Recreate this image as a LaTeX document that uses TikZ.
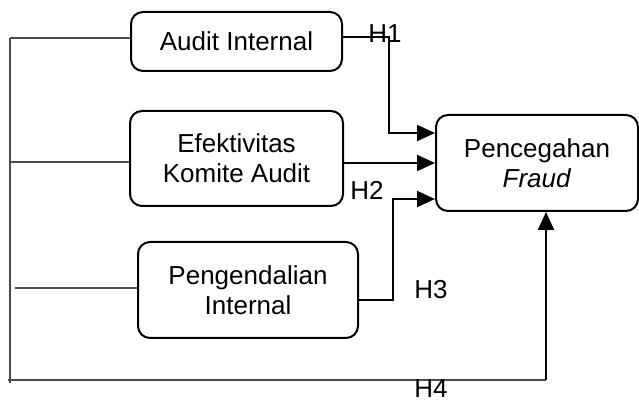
\documentclass[tikz,border=0pt]{standalone}
\usepackage{fontspec}
\setmainfont{Liberation Sans}
\usetikzlibrary{arrows.meta}

\begin{document}
\begin{tikzpicture}[x=0.5pt,y=-0.5pt,
        box/.style={draw,line width=1pt,rounded corners=6pt,align=center,inner sep=0pt,font=\fontsize{13}{15}\selectfont},
        lbl/.style={inner sep=0pt,font=\fontsize{13}{15}\selectfont},
        link/.style={draw=black!70,line width=0.55pt},
        arr/.style={line width=1pt,-{Triangle[length=9pt,width=8pt]}}]
        \useasboundingbox (0,0) rectangle (639,401);
        \node[box,minimum width=105.5pt,minimum height=29.5pt] (audit) at (236.5,41.5) {Audit Internal};
        \node[box,minimum width=106.5pt,minimum height=47.5pt] (komite) at (236.5,158.5) {Efektivitas\\Komite Audit};
        \node[box,minimum width=110pt,minimum height=48pt] (kontrol) at (248,290) {Pengendalian\\Internal};
        \node[box,minimum width=101pt,minimum height=48pt] (fraud) at (537,163) {Pencegahan\\\textit{Fraud}};
        \coordinate (top) at (10,38);
        \coordinate (bot) at (10,380);
        \coordinate (corner) at (546,380);
        \draw[link] (top) -- (bot) -- ++(0,3); % left bar
        \draw[link] (top) -- (top -| audit.west);
        \draw[link] (10,162) -- (komite.west |- 0,162);
        \draw[link] (15,288) -- (kontrol.west |- 0,288);
        \draw[link] (8,380) -- (corner); % bottom bar
        \draw[arr] ([yshift=2pt]audit.east) -| ([xshift=-23pt,yshift=15pt]fraud.west) -- ([yshift=15pt]fraud.west); % H1
        \draw[arr] (komite.east |- fraud.west) -- (fraud.west); % H2
        \draw[arr] ([yshift=-5pt]kontrol.east) -| ([xshift=-21pt,yshift=-18pt]fraud.west) -- ([yshift=-18pt]fraud.west); % H3
        \draw[arr] (corner) -- (corner |- fraud.south); % H4
        \node[lbl] (h1) at (385,34) {H1};
        \node[lbl] (h2) at (367,190) {H2};
        \node[lbl] (h3) at (431,290) {H3};
        \node[lbl] (h4) at (431,389) {H4};
    \end{tikzpicture}
\end{document}
